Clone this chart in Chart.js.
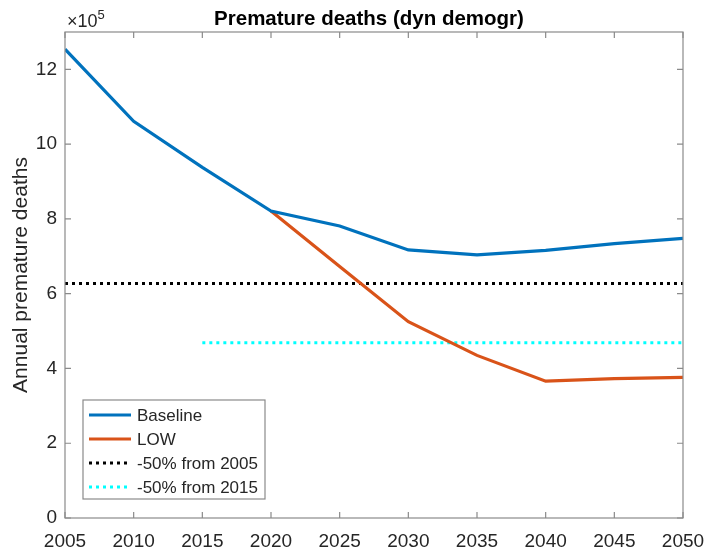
<!DOCTYPE html>
<html>
<head>
<meta charset="utf-8">
<script src="https://cdn.jsdelivr.net/npm/chart.js@4.4.1/dist/chart.umd.min.js"></script>
<style>
  html, body { margin: 0; padding: 0; background: #fff; }
  #wrap { width: 705px; height: 550px; }
</style>
</head>
<body>
<div id="wrap"><canvas id="c" width="705" height="550"></canvas></div>
<script>
// ---- data (annual premature deaths) ----
const years = [2005, 2010, 2015, 2020, 2025, 2030, 2035, 2040, 2045, 2050];
const baseline = [1254000, 1061000, 938000, 821000, 781000, 717000, 704000, 716000, 734000, 748000];
const low = [null, null, null, 821000, 673000, 525000, 435000, 366000, 373000, 376000];
const target2005 = [627000, 627000, 627000, 627000, 627000, 627000, 627000, 627000, 627000, 627000];
const target2015 = [null, null, 469000, 469000, 469000, 469000, 469000, 469000, 469000, 469000];
const seriesLabels = ['Baseline', 'LOW', '-50% from 2005', '-50% from 2015'];
const xTicks = [2005, 2010, 2015, 2020, 2025, 2030, 2035, 2040, 2045, 2050];
const yTicks = [0, 200000, 400000, 600000, 800000, 1000000, 1200000];
const titleText = 'Premature deaths (dyn demogr)';
const yLabelText = 'Annual premature deaths';

function pts(arr) {
  const out = [];
  years.forEach((yr, i) => { if (arr[i] !== null) out.push({ x: yr, y: arr[i] }); });
  return out;
}

const FONT = "'Liberation Sans', Arial, Helvetica, sans-serif";
const AXIS_COLOR = '#8a8a8a';
const TEXT_COLOR = '#262626';

const matlabAxes = {
  id: 'matlabAxes',
  afterDraw(chart) {
    const ctx = chart.ctx;
    const a = chart.chartArea;
    const xs = chart.scales.x, ys = chart.scales.y;
    ctx.save();
    // box
    ctx.strokeStyle = AXIS_COLOR;
    ctx.lineWidth = 1.2;
    ctx.strokeRect(a.left, a.top, a.right - a.left, a.bottom - a.top);
    // inward ticks
    const tl = 6;
    ctx.beginPath();
    xTicks.forEach(v => {
      const px = xs.getPixelForValue(v);
      ctx.moveTo(px, a.bottom); ctx.lineTo(px, a.bottom - tl);
      ctx.moveTo(px, a.top); ctx.lineTo(px, a.top + tl);
    });
    yTicks.forEach(v => {
      const py = ys.getPixelForValue(v);
      ctx.moveTo(a.left, py); ctx.lineTo(a.left + tl, py);
      ctx.moveTo(a.right, py); ctx.lineTo(a.right - tl, py);
    });
    ctx.stroke();

    // title
    ctx.fillStyle = '#000';
    ctx.font = 'bold 20.5px ' + FONT;
    ctx.textAlign = 'center';
    ctx.textBaseline = 'alphabetic';
    ctx.fillText(titleText, 369, 25);

    // exponent
    ctx.fillStyle = TEXT_COLOR;
    ctx.textAlign = 'left';
    ctx.font = '18px ' + FONT;
    ctx.fillText('\u00d710', a.left + 2, 27);
    const w = ctx.measureText('\u00d710').width;
    ctx.font = '13px ' + FONT;
    ctx.fillText('5', a.left + 2 + w, 19);

    // y label
    ctx.save();
    ctx.translate(27, (a.top + a.bottom) / 2);
    ctx.rotate(-Math.PI / 2);
    ctx.font = '21px ' + FONT;
    ctx.textAlign = 'center';
    ctx.textBaseline = 'alphabetic';
    ctx.fillText(yLabelText, 0, 0);
    ctx.restore();

    // legend
    const lx = 83, ly = 400, lw = 182, lh = 99;
    ctx.fillStyle = '#fff';
    ctx.fillRect(lx, ly, lw, lh);
    ctx.strokeStyle = AXIS_COLOR;
    ctx.lineWidth = 1.2;
    ctx.strokeRect(lx, ly, lw, lh);
    ctx.font = '17px ' + FONT;
    ctx.textBaseline = 'middle';
    ctx.textAlign = 'left';
    chart.data.datasets.forEach((ds, i) => {
      const y = 415 + i * 24;
      ctx.save();
      ctx.strokeStyle = ds.borderColor;
      ctx.lineWidth = ds.borderWidth;
      ctx.setLineDash(ds.borderDash || []);
      ctx.beginPath();
      ctx.moveTo(89, y); ctx.lineTo(131, y);
      ctx.stroke();
      ctx.restore();
      ctx.fillStyle = TEXT_COLOR;
      ctx.fillText(ds.label, 137, y + 1);
    });
    ctx.restore();
  }
};

new Chart(document.getElementById('c'), {
  type: 'line',
  data: {
    datasets: [
      { label: seriesLabels[0], data: pts(baseline), borderColor: '#0072BD', borderWidth: 3.2 },
      { label: seriesLabels[1], data: pts(low), borderColor: '#D95319', borderWidth: 3.2 },
      { label: seriesLabels[2], data: pts(target2005), borderColor: '#000000', borderWidth: 3, borderDash: [3, 4] },
      { label: seriesLabels[3], data: pts(target2015), borderColor: '#00FFFF', borderWidth: 3, borderDash: [3, 4] }
    ]
  },
  options: {
    responsive: false,
    animation: false,
    events: [],
    layout: { padding: { left: 0, right: 22, top: 32, bottom: 0 } },
    elements: { point: { radius: 0 }, line: { tension: 0, borderCapStyle: 'butt' } },
    plugins: { legend: { display: false }, title: { display: false }, tooltip: { enabled: false } },
    scales: {
      x: {
        type: 'linear', min: 2005, max: 2050,
        grid: { display: false, drawTicks: false },
        border: { display: false },
        afterFit(s) { s.height = 32; s.paddingLeft = 0; s.paddingRight = 0; },
        afterBuildTicks(s) { s.ticks = xTicks.map(v => ({ value: v })); },
        ticks: { padding: 12, color: TEXT_COLOR, font: { family: FONT, size: 19 }, maxRotation: 0, callback: v => String(v) }
      },
      y: {
        type: 'linear', min: 0, max: 1300000,
        grid: { display: false, drawTicks: false },
        border: { display: false },
        afterFit(s) { s.width = 65; s.paddingTop = 0; s.paddingBottom = 0; },
        afterBuildTicks(s) { s.ticks = yTicks.map(v => ({ value: v })); },
        ticks: { padding: 8, color: TEXT_COLOR, font: { family: FONT, size: 19 }, callback: v => String(v / 100000) }
      }
    }
  },
  plugins: [matlabAxes]
});
</script>
</body>
</html>
